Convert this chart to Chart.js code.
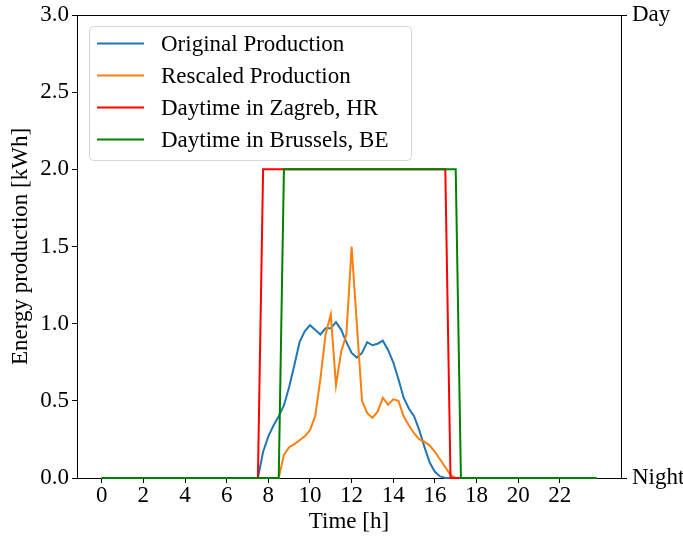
<!DOCTYPE html>
<html>
<head>
<meta charset="utf-8">
<script src="https://cdn.jsdelivr.net/npm/chart.js@4/dist/chart.umd.min.js"></script>
<style>
  html, body { margin: 0; padding: 0; background: #fff; }
  #wrap { width: 683px; height: 539px; }
</style>
</head>
<body>
<div id="wrap"><canvas id="myChart" width="683" height="539"></canvas></div>
<script>
// hours of day (15 minute steps, only where the curves change)
const originalTimes = [0, 7.5, 7.75, 8, 8.25, 8.5, 8.75, 9, 9.25, 9.5, 9.75, 10,
  10.25, 10.5, 10.75, 11, 11.25, 11.5, 11.75, 12, 12.25, 12.5, 12.75, 13,
  13.25, 13.5, 13.75, 14, 14.25, 14.5, 14.75, 15, 15.25, 15.5, 15.75, 16,
  16.25, 16.5, 23.75];
const originalProduction = [0, 0, 0.17, 0.27, 0.34, 0.40, 0.47, 0.59, 0.73, 0.88, 0.95, 0.99,
  0.96, 0.93, 0.97, 0.97, 1.01, 0.96, 0.88, 0.81, 0.78, 0.81, 0.88, 0.86,
  0.87, 0.89, 0.83, 0.75, 0.64, 0.52, 0.45, 0.40, 0.31, 0.20, 0.10, 0.04,
  0.01, 0, 0];

const rescaledTimes = [0, 8.5, 8.75, 9, 9.25, 9.5, 9.75, 10,
  10.25, 10.5, 10.75, 11, 11.25, 11.5, 11.75, 12, 12.25, 12.5, 12.75, 13,
  13.25, 13.5, 13.75, 14, 14.25, 14.5, 14.75, 15, 15.25, 15.5, 15.75, 16,
  16.25, 16.5, 16.75, 17, 23.75];
const rescaledProduction = [0, 0, 0.15, 0.20, 0.22, 0.245, 0.27, 0.31,
  0.40, 0.64, 0.93, 1.06, 0.60, 0.82, 0.93, 1.50, 1.00, 0.50, 0.42, 0.39,
  0.43, 0.52, 0.475, 0.51, 0.50, 0.40, 0.34, 0.29, 0.25, 0.235, 0.21, 0.17,
  0.12, 0.07, 0.02, 0, 0];

const zagrebTimes = [0, 7.5, 7.75, 16.5, 16.75, 23.75];
const zagrebDaytime = [0, 0, 2, 2, 0, 0];
const brusselsTimes = [0, 8.5, 8.75, 17, 17.25, 23.75];
const brusselsDaytime = [0, 0, 2, 2, 0, 0];

const hourTicks = [0, 2, 4, 6, 8, 10, 12, 14, 16, 18, 20, 22];
const dayNightTicks = [0, 3];
const dayNightLabels = ['Night', 'Day'];

const toPoints = (xs, ys) => xs.map((x, i) => ({ x: x, y: ys[i] }));

Chart.defaults.font.family = '"Liberation Serif", "Times New Roman", serif';
Chart.defaults.font.size = 23;
Chart.defaults.color = '#000';

// matplotlib-like legend box inside the plot + top spine
const legendBox = {
  id: 'legendBox',
  afterDatasetsDraw(chart) {
    const ctx = chart.ctx;
    const area = chart.chartArea;
    ctx.save();
    ctx.strokeStyle = '#000';
    ctx.lineWidth = 1;
    ctx.beginPath();
    ctx.moveTo(area.left, area.top + 0.5);
    ctx.lineTo(area.right, area.top + 0.5);
    ctx.stroke();

    const x0 = 89.5, y0 = 26.5, w = 322, h = 134;
    ctx.beginPath();
    ctx.roundRect(x0, y0, w, h, 4);
    ctx.fillStyle = 'rgba(255,255,255,0.8)';
    ctx.fill();
    ctx.strokeStyle = '#d6d6d6';
    ctx.stroke();

    ctx.font = '23px "Liberation Serif", serif';
    ctx.textBaseline = 'middle';
    ctx.fillStyle = '#000';
    chart.data.datasets.forEach((ds, i) => {
      const y = 43.5 + i * 32;
      ctx.strokeStyle = ds.borderColor;
      ctx.lineWidth = 2;
      ctx.beginPath();
      ctx.moveTo(97, y);
      ctx.lineTo(144, y);
      ctx.stroke();
      ctx.fillText(ds.label, 161, y + 1);
    });
    ctx.restore();
  }
};

// fixed axis sizes so the plot area matches the figure
const fixVertical = (width) => (scale) => {
  scale.width = width;
  scale.paddingTop = 0;
  scale.paddingBottom = 0;
};

const ctx = document.getElementById('myChart').getContext('2d');

const chart = new Chart(ctx, {
  type: 'line',
  data: {
    datasets: [{
      label: 'Original Production',
      data: toPoints(originalTimes, originalProduction),
      borderColor: '#1f77b4',
      order: 3,
    }, {
      label: 'Rescaled Production',
      data: toPoints(rescaledTimes, rescaledProduction),
      borderColor: '#ff7f0e',
      order: 2,
    }, {
      label: 'Daytime in Zagreb, HR',
      data: toPoints(zagrebTimes, zagrebDaytime),
      borderColor: '#ff0000',
      order: 1,
    }, {
      label: 'Daytime in Brussels, BE',
      data: toPoints(brusselsTimes, brusselsDaytime),
      borderColor: '#008000',
      order: 0,
    }],
  },
  options: {
    responsive: false,
    animation: false,
    layout: { padding: { top: 15, left: 0, right: 0, bottom: 0 } },
    elements: {
      point: { radius: 0 },
      line: { borderWidth: 2, tension: 0, fill: false },
    },
    datasets: { line: { clip: 4 } },
    plugins: {
      legend: { display: false },
      tooltip: { enabled: false },
    },
    scales: {
      x: {
        type: 'linear',
        min: -1.1875,
        max: 24.9375,
        afterBuildTicks: (scale) => { scale.ticks = hourTicks.map(v => ({ value: v })); },
        afterFit: (scale) => { scale.height = 61; scale.paddingLeft = 0; scale.paddingRight = 0; },
        ticks: { padding: -1, maxRotation: 0 },
        grid: { drawOnChartArea: false, drawTicks: true, tickLength: 5, color: '#000' },
        border: { display: true, color: '#000', width: 1 },
        title: { display: true, text: 'Time [h]', padding: { top: 0, bottom: 3 } },
      },
      y: {
        position: 'left',
        min: 0,
        max: 3,
        ticks: { stepSize: 0.5, padding: 3, callback: (v) => v.toFixed(1) },
        afterFit: fixVertical(77),
        grid: { drawOnChartArea: false, drawTicks: true, tickLength: 5, color: '#000' },
        border: { display: true, color: '#000', width: 1 },
        title: { display: true, text: 'Energy production [kWh]', padding: { top: 7, bottom: 0 } },
      },
      y2: {
        position: 'right',
        min: 0,
        max: 3,
        afterBuildTicks: (scale) => { scale.ticks = dayNightTicks.map(v => ({ value: v })); },
        afterFit: fixVertical(62),
        ticks: { padding: 5, callback: (v) => dayNightLabels[dayNightTicks.indexOf(v)] },
        grid: { drawOnChartArea: false, drawTicks: true, tickLength: 6, color: '#000' },
        border: { display: true, color: '#000', width: 1 },
      },
    },
  },
  plugins: [legendBox],
});
</script>
</body>
</html>
